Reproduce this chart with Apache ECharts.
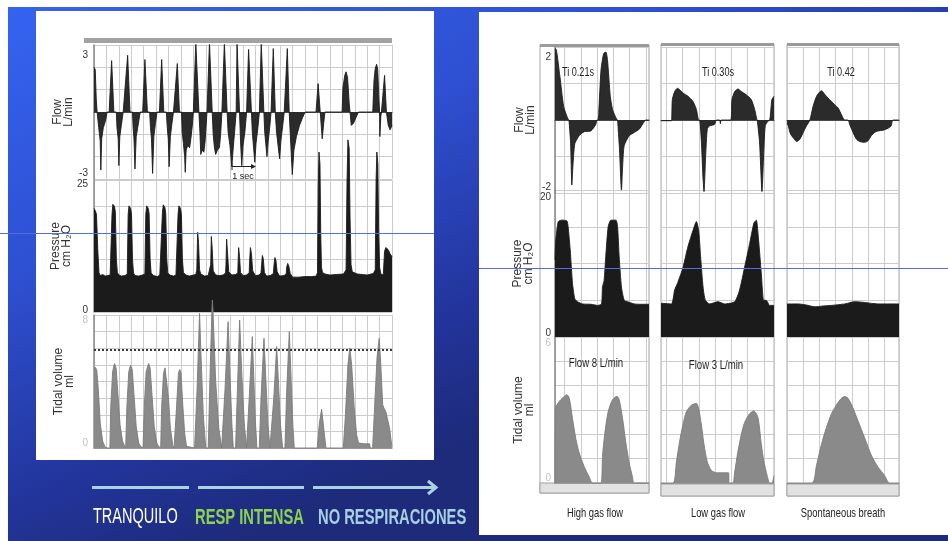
<!DOCTYPE html>
<html><head><meta charset="utf-8">
<script src="https://cdn.jsdelivr.net/npm/echarts@6/dist/echarts.min.js"></script>
<style>html,body{margin:0;padding:0;background:#fff}#c{width:948px;height:541px}</style>
</head><body><div id="c"></div><script>
// ---------------- DATA (time in grid divisions, values in axis units) ----------------
const leftFlow = [[0,2.0],[0.1,1.9],[0.18,0.6],[0.25,0],
[0.33,0],[0.38,-0.7],[0.5,-1.3],[0.55,-2.6],[0.62,-1.2],[0.75,-0.7],[0.95,-0.35],[1.05,0],
[1.22,0],[1.42,2.3],[1.6,0],
[1.8,0],[1.85,-0.7],[1.95,-1.2],[2.0,-2.4],[2.08,-1.1],[2.2,-0.6],[2.35,0],
[2.5,0],[2.71,2.54],[2.9,0],
[3.1,0],[3.15,-0.7],[3.22,-1.2],[3.3,-2.55],[3.4,-1.1],[3.55,-0.6],[3.72,0],
[3.92,0],[4.1,2.35],[4.3,0],
[4.48,0],[4.55,-0.7],[4.63,-1.2],[4.72,-2.75],[4.82,-1.1],[4.95,-0.5],[5.08,0],
[5.27,0],[5.45,2.35],[5.62,0],
[5.83,0],[5.9,-0.7],[5.98,-1.2],[6.05,-2.45],[6.15,-1.1],[6.28,-0.5],[6.4,0],
[6.53,0],[6.71,2.17],[6.88,0],
[7.05,0],[7.1,-0.9],[7.2,-1.4],[7.3,-2.0],[7.35,-2.7],[7.42,-1.7],[7.55,-1.5],[7.7,-1.6],[7.8,-1.2],[7.92,-0.6],[8.0,0],
[8.07,0],[8.2,3.1],[8.28,3.1],[8.45,0],
[8.48,0],[8.53,-0.9],[8.6,-1.9],[8.7,-1.7],[8.85,-1.8],[8.95,-1.3],[9.1,0],
[9.15,0],[9.3,3.1],[9.38,3.1],[9.52,0],
[9.53,0],[9.6,-1.0],[9.7,-1.6],[9.8,-1.9],[9.95,-1.7],[10.1,-1.6],[10.2,-1.0],[10.3,0],
[10.35,0],[10.5,3.1],[10.58,3.1],[10.72,0],
[10.75,0],[10.8,-0.9],[10.95,-1.5],[11.1,-2.45],[11.2,-1.7],[11.35,-0.7],[11.45,0],
[11.46,0],[11.52,3.1],[11.6,3.1],[11.72,0],
[11.73,0],[11.8,-1.3],[11.9,-2.4],[12.0,-1.5],[12.15,-0.9],[12.29,0],
[12.3,0],[12.45,2.8],[12.52,2.75],[12.68,0],
[12.7,0],[12.75,-0.9],[12.95,-2.25],[13.05,-1.4],[13.2,-0.7],[13.32,0],
[13.34,0],[13.47,3.1],[13.52,3.05],[13.68,0],
[13.7,0],[13.75,-0.9],[13.93,-2.0],[14.03,-1.3],[14.15,-0.7],[14.26,0],
[14.27,0],[14.44,2.84],[14.6,0],
[14.65,0],[14.7,-0.9],[14.95,-2.1],[15.05,-1.3],[15.2,-0.6],[15.32,0],
[15.38,0],[15.57,2.84],[15.72,0],
[15.75,0],[15.8,-0.9],[15.97,-2.8],[16.1,-1.7],[16.3,-1.1],[16.55,-0.6],[16.8,-0.25],[17.0,0],
[17.88,0],[18.05,1.27],[18.22,0],
[18.25,0],[18.3,-0.6],[18.38,-1.2],[18.5,-0.5],[18.6,0],
[19.98,0],[20.05,1.1],[20.2,1.65],[20.3,1.8],[20.42,1.55],[20.55,0.4],[20.62,0],
[20.65,0],[20.72,-0.6],[20.9,-0.5],[21.1,-0.25],[21.3,0],
[22.45,0],[22.55,1.4],[22.65,1.95],[22.76,2.14],[22.85,1.9],[22.95,0.5],[23.0,0],
[23.02,-1.1],[23.1,-0.2],[23.15,0],
[23.2,0],[23.4,1.64],[23.55,0],
[23.6,0],[23.7,-0.6],[23.85,-0.8],[24,-0.6]];

const leftPressure = [[0,19.6],[0.1,19.2],[0.2,18.5],[0.3,12],[0.4,7.5],[0.5,6.9],[0.7,7.1],[0.9,6.8],[1.1,6.9],[1.3,7.0],
[1.38,7.2],[1.45,18.5],[1.52,20.4],[1.65,20.0],[1.72,19.0],[1.8,10],[1.88,7.5],[2.0,7.0],[2.2,6.8],[2.5,6.9],
[2.68,7.2],[2.75,18.5],[2.82,20.1],[2.95,19.6],[3.02,18.6],[3.1,10],[3.18,7.4],[3.3,6.9],[3.6,6.8],[3.9,7.0],
[4.1,7.2],[4.17,18.5],[4.24,20.1],[4.37,19.6],[4.44,18.6],[4.52,10],[4.6,7.4],[4.8,6.9],[5.1,6.7],[5.3,7.0],
[5.44,7.2],[5.51,18.8],[5.58,20.3],[5.71,19.8],[5.78,18.6],[5.86,10],[5.94,7.4],[6.1,7.0],[6.4,6.8],[6.6,7.0],
[6.7,7.2],[6.77,18.5],[6.84,20.1],[6.97,19.6],[7.04,18.4],[7.12,10],[7.2,7.5],[7.4,7.0],[7.7,6.8],[8.0,7.0],[8.2,7.1],
[8.28,8],[8.35,15.1],[8.42,13],[8.5,8],[8.6,7.2],[8.9,6.8],[9.2,6.9],[9.35,7.2],
[9.4,9],[9.45,14.3],[9.52,12],[9.6,7.8],[9.8,7.0],[10.1,6.9],[10.4,7.0],[10.6,7.4],
[10.63,9],[10.68,13.8],[10.76,11],[10.85,7.6],[11.1,7.0],[11.4,7.1],[11.58,7.4],
[11.6,9],[11.65,12.2],[11.72,10.5],[11.8,7.5],[12.0,6.9],[12.3,7.0],[12.5,7.5],
[12.53,9.5],[12.6,12.2],[12.68,11],[12.78,7.8],[13.0,6.9],[13.3,7.0],[13.45,7.4],
[13.5,9],[13.56,10.7],[13.64,10],[13.72,7.5],[13.9,6.8],[14.2,6.9],[14.45,7.3],
[14.5,9],[14.57,10.3],[14.65,9.8],[14.75,7.6],[14.95,6.8],[15.3,6.9],[15.48,7.2],
[15.52,8.5],[15.6,9.2],[15.7,8.6],[15.8,7.3],[16.0,6.6],[16.5,6.6],[17.0,6.7],[17.5,6.7],[17.9,6.8],
[18.0,7.5],[18.06,24],[18.12,30.3],[18.2,28],[18.26,15],[18.32,8.5],[18.4,7.5],[18.6,7.2],[19.0,7.0],[19.5,7.1],[20.1,7.2],
[20.3,8],[20.38,25],[20.45,32.6],[20.55,31],[20.62,18],[20.7,9],[20.8,7.6],[21.2,7.2],[21.6,7.1],[22.0,7.0],[22.5,7.3],
[22.65,8],[22.72,25],[22.78,30.3],[22.86,28],[22.92,16],[23.0,8.5],[23.1,7.2],
[23.3,7.0],[23.4,11.5],[23.5,12.2],[23.7,11.8],[23.85,11],[24,10.5]];

const leftVolume = [[0,4.7],[0.1,4.85],[0.22,4.7],[0.35,3.5],[0.5,1.5],[0.7,0.4],[0.9,0.05],[1.1,0],
[1.28,0],[1.35,2.5],[1.5,4.6],[1.65,5.08],[1.78,4.8],[1.95,3.0],[2.1,1.4],[2.3,0.4],[2.45,0.15],[2.55,0],
[2.58,0],[2.65,2.5],[2.8,4.6],[2.95,4.98],[3.08,4.7],[3.25,2.9],[3.4,1.3],[3.6,0.3],[3.75,0.1],[3.95,0],
[3.97,0],[4.05,2.5],[4.2,4.6],[4.4,5.08],[4.52,4.8],[4.7,2.9],[4.85,1.3],[5.05,0.3],[5.2,0.1],[5.3,0],
[5.37,0],[5.45,2.5],[5.6,4.5],[5.72,4.82],[5.85,4.7],[6.0,3.0],[6.15,1.2],[6.35,0.15],[6.45,0],
[6.58,0],[6.65,2.5],[6.8,4.5],[6.9,4.72],[7.0,4.55],[7.15,2.6],[7.3,0.9],[7.45,0.1],[7.5,0],
[8.1,0],[8.3,3.5],[8.5,8.1],[8.62,5.5],[8.8,2.0],[9.0,0],
[9.2,0],[9.35,4.5],[9.5,8.4],[9.53,8.9],[9.58,8.3],[9.8,4.0],[10.05,1.2],[10.28,0],
[10.4,0],[10.55,3.5],[10.8,7.6],[10.95,4.5],[11.1,1.5],[11.22,0],
[11.4,0],[11.55,3.5],[11.73,7.7],[11.9,4.5],[12.1,1.5],[12.28,0],
[12.37,0],[12.5,3.0],[12.75,6.7],[12.88,4.0],[13.0,1.6],[13.12,0],
[13.31,0],[13.45,3.0],[13.69,6.6],[13.85,4.0],[14.0,1.5],[14.17,0],
[14.33,0],[14.48,3.0],[14.71,6.1],[14.86,3.9],[15.02,1.4],[15.19,0],
[15.38,0],[15.52,3.5],[15.73,7.0],[15.88,4.0],[16.02,1.3],[16.13,0],
[17.98,0],[18.15,1.5],[18.33,2.33],[18.5,1.2],[18.68,0],
[20.08,0],[20.25,2.0],[20.45,5.0],[20.6,6.02],[20.75,5.0],[20.95,2.5],[21.15,0.8],[21.3,0.3],[21.8,0.25],[22.2,0.25],[22.25,0],
[22.44,0],[22.6,2.5],[22.8,5.5],[22.97,6.6],[23.1,5.0],[23.25,2.6],[23.35,2.4],[23.5,2.2],[23.64,2.3],[23.8,1.2],[23.97,0.2],[24,0.1]];
const leftVolumeMark = 5.9;

const flowA = [[-0.6,1.95],[-0.55,1.95],[-0.3,1.2],[-0.07,0.38],[0.17,0.06],[0.26,0],
[0.28,0],[0.36,-0.6],[0.44,-1.78],[0.5,-1.3],[0.62,-0.65],[0.89,-0.43],[1.2,-0.32],[1.61,-0.3],[1.92,-0.12],[1.98,0],
[2.05,0],[2.1,0.2],[2.24,1.37],[2.4,1.82],[2.54,1.86],[2.64,1.64],[2.81,0.65],[2.95,0.29],[3.16,0.06],[3.26,0],
[3.3,0],[3.38,-0.8],[3.5,-1.92],[3.58,-1.2],[3.67,-0.7],[3.98,-0.43],[4.29,-0.34],[4.6,-0.25],[4.8,-0.12],[5.0,0],[5.2,0]];
const flowB = [[-0.3,-0.02],[0.31,-0.02],[0.33,0],[0.37,0.56],[0.51,0.78],[0.68,0.87],[0.82,0.83],[1.03,0.74],[1.33,0.65],[1.64,0.51],[1.85,0.29],[1.99,0],
[2.05,0],[2.15,-0.52],[2.26,-1.6],[2.32,-1.96],[2.42,-0.97],[2.52,-0.25],[2.67,-0.16],[2.97,-0.12],[3.08,0],[3.28,0],[3.33,-0.1],[3.38,0],
[3.96,0],[4.04,0.56],[4.21,0.78],[4.41,0.85],[4.62,0.78],[4.92,0.69],[5.23,0.56],[5.44,0.29],[5.6,0],
[5.62,0],[5.74,-0.6],[5.89,-1.96],[5.99,-0.97],[6.09,-0.16],[6.26,-0.03],[6.36,0],
[6.4,0.1],[6.5,0.56],[6.63,0.65]];
const flowC = [[-1.0,-0.1],[-0.92,-0.16],[-0.82,-0.34],[-0.72,-0.43],[-0.55,-0.52],[-0.41,-0.59],[-0.2,-0.52],[0,-0.34],[0.2,-0.16],[0.41,0],
[0.61,0.38],[0.82,0.65],[0.96,0.74],[1.12,0.8],[1.33,0.7],[1.53,0.6],[1.74,0.51],[1.94,0.42],[2.15,0.33],[2.35,0.15],[2.56,0],
[2.76,0],[2.86,-0.12],[3.07,-0.34],[3.27,-0.52],[3.48,-0.59],[3.78,-0.61],[3.99,-0.57],[4.19,-0.43],[4.4,-0.34],[4.6,-0.3],[4.91,-0.28],[5.21,-0.23],[5.42,-0.16],[5.52,0],[5.9,0]];

const pressA = [[-0.6,10.5],[-0.55,13.2],[-0.4,15.7],[-0.2,15.9],[0.13,15.8],[0.21,15.0],[0.34,11.8],[0.48,7.3],[0.62,5.2],[0.79,4.8],[1.1,4.5],[1.61,4.45],[2.03,4.3],[2.27,4.5],[2.33,6.8],[2.43,7.7],[2.53,10.9],[2.68,15.0],[2.85,15.9],[3.16,15.9],[3.26,15.0],[3.36,10.9],[3.5,6.8],[3.67,5.0],[3.88,4.8],[4.29,4.5],[4.7,4.45],[5.2,4.45]];
const pressB = [[-0.33,4.6],[0.31,4.5],[0.51,6.4],[0.72,7.5],[1.03,9.5],[1.33,12.3],[1.64,14.5],[1.85,15.7],[1.99,14.5],[2.11,10.9],[2.26,6.8],[2.4,5.0],[2.67,4.5],[3.18,4.8],[3.59,4.5],[4.21,4.8],[4.51,6.4],[4.82,9.5],[5.13,12.7],[5.39,15.5],[5.54,15.9],[5.68,13.2],[5.85,8.6],[5.99,5.0],[6.15,5.0],[6.36,4.3],[6.63,4.3]];
const pressC = [[-1.0,4.5],[-0.3,4.5],[0.31,4.3],[0.72,4.1],[1.12,4.2],[1.74,4.3],[2.56,4.5],[3.17,4.8],[3.78,4.7],[4.6,4.5],[5.9,4.5]];

const volA = [[-0.6,0],[-0.57,3.07],[-0.34,3.35],[-0.14,3.49],[0.13,3.63],[0.28,3.49],[0.48,2.65],[0.69,1.8],[0.89,1.24],[1.2,0.68],[1.51,0.25],[1.72,0],
[2.23,0],[2.33,1.1],[2.48,2.08],[2.68,2.93],[2.95,3.42],[3.22,3.56],[3.36,3.42],[3.57,2.65],[3.77,1.66],[3.98,0.82],[4.18,0.25],[4.29,0],[5.2,0]];
const volB = [[-0.33,0],[0.41,0],[0.62,0.87],[0.82,1.72],[1.03,2.42],[1.23,2.92],[1.54,3.2],[1.85,3.27],[1.99,3.06],[2.15,2.42],[2.32,1.58],[2.52,0.87],[2.77,0.52],[3.08,0.42],[3.49,0.42],[3.83,0.42],[3.87,0],[4.1,0],[4.21,0.45],[4.41,1.3],[4.62,2.0],[4.82,2.49],[5.13,2.85],[5.39,2.96],[5.64,2.7],[5.85,1.58],[6.01,0.87],[6.21,0.3],[6.36,0],[6.5,0],[6.63,0.3]];
const volC = [[-1.0,0],[0.51,0],[0.82,0.73],[1.12,1.58],[1.43,2.28],[1.74,2.85],[2.04,3.2],[2.35,3.48],[2.56,3.55],[2.76,3.48],[3.07,3.07],[3.37,2.56],[3.78,1.86],[4.19,1.15],[4.6,0.66],[5.01,0.31],[5.32,0],[5.9,0]];

// tick labels shown (value, text)
const leftFlowTicks = [[-3,'-3'],[3,'3']];
const leftPressTicks = [[0,'0'],[25,'25']];
const leftVolTicks = [[0,'0'],[8,'8']];
const rightFlowTicks = [[-2,'-2'],[2,'2']];
const rightPressTicks = [[0,'0'],[20,'20']];
const rightVolTicks = [[0,'0'],[6,'6']];

const panelTitles = ['Ti 0.21s','Ti 0.30s','Ti 0.42'];
const panelFlows = ['Flow 8 L/min','Flow 3 L/min'];
const panelCaptions = ['High gas flow','Low gas flow','Spontaneous breath'];
const phaseLabels = ['TRANQUILO','RESP INTENSA','NO RESPIRACIONES'];
const axisNames = ['Flow\nL/min','Pressure\ncm H\u2082O','Tidal volume\nml'];

// ---------------- LAYOUT ----------------
const FF = '"Liberation Sans", Arial, sans-serif';
const NARROW = '"Liberation Sans Narrow", "Liberation Sans", Arial, sans-serif';
const gridsPx = [
  {left:94, top:45, width:298, height:134},   // 0 left flow
  {left:94, top:180, width:298, height:132},  // 1 left pressure
  {left:94, top:315, width:298, height:133},  // 2 left volume
  {left:555, top:47, width:94, height:146},   // 3 A flow
  {left:555, top:190, width:94, height:147},  // 4 A pressure
  {left:555, top:337, width:94, height:146},  // 5 A volume
  {left:661, top:47, width:113, height:146},  // 6 B
  {left:661, top:190, width:113, height:147},
  {left:661, top:337, width:113, height:146},
  {left:787, top:47, width:112, height:146},  // 9 C
  {left:787, top:190, width:112, height:147},
  {left:787, top:337, width:112, height:146}
];
const xr = [[0,24],[0,24],[0,24],[-0.6,5.2],[-0.6,5.2],[-0.6,5.2],[-0.33,6.63],[-0.33,6.63],[-0.33,6.63],[-1,5.9],[-1,5.9],[-1,5.9]];
const yr = [[-3,3,1],[0,25,5],[0,8,1],[-2,2,1],[0,20,5],[0,6,1],[-2,2,1],[0,20,5],[0,6,1],[-2,2,1],[0,20,5],[0,6,1]];
const kinds = ['f','p','v','f','p','v','f','p','v','f','p','v'];

function edgeLabels(ticks, topPad, botPad, color, margin) {
  const lo = ticks[0], hi = ticks[1];
  return {
    show: true, margin: margin, fontSize: 10, color: color, fontFamily: FF,
    formatter: function (v) {
      if (v === hi[0]) return '{t|' + hi[1] + '}';
      if (v === lo[0]) return '{b|' + lo[1] + '}';
      return '';
    },
    rich: {
      t: {padding: [topPad, 0, 0, 0], fontSize: 10, color: color, fontFamily: FF},
      b: {padding: [0, 0, botPad, 0], fontSize: 10, color: color, fontFamily: FF}
    }
  };
}

const gridLine = {show: true, lineStyle: {color: '#cccccc', width: 1}};
const xAxes = [], yAxes = [];
for (let i = 0; i < 12; i++) {
  const k = kinds[i];
  const isLeft = i < 3;
  const isA = i >= 3 && i <= 5;
  const xa = {
    type: 'value', gridIndex: i, min: xr[i][0], max: xr[i][1],
    axisLabel: {show: false}, axisTick: {show: false}, splitLine: gridLine,
    axisLine: {show: k !== 'p', onZero: k === 'f', lineStyle: {color: k === 'f' ? '#4a4a4a' : '#999', width: 1.2}}
  };
  if (isLeft) { xa.interval = 1; } else { xa.splitNumber = Math.round(xr[i][1] - xr[i][0]); }
  xAxes.push(xa);
  const ya = {
    type: 'value', gridIndex: i, min: yr[i][0], max: yr[i][1], interval: yr[i][2],
    axisTick: {show: false}, splitLine: gridLine,
    axisLine: {show: isLeft || isA, onZero: false, lineStyle: {color: '#888', width: 1.5}},
    axisLabel: {show: false}
  };
  if (isLeft || isA) {
    const ni = k === 'f' ? 0 : (k === 'p' ? 1 : 2);
    ya.name = axisNames[ni];
    ya.nameLocation = 'middle';
    ya.nameGap = isLeft ? [20, 17, 19][ni] : [19, 21, 20][ni];
    ya.nameTextStyle = {fontSize: 12, color: '#333', fontFamily: FF, lineHeight: 11};
  }
  if (isLeft) {
    if (k === 'f') ya.axisLabel = edgeLabels(leftFlowTicks, 20, 12, '#333', 6);
    if (k === 'p') ya.axisLabel = edgeLabels(leftPressTicks, 8, 4, '#333', 6);
    if (k === 'v') ya.axisLabel = edgeLabels(leftVolTicks, 10, 10, '#c4c4c4', 6);
  } else if (isA) {
    if (k === 'f') ya.axisLabel = edgeLabels(rightFlowTicks, 20, 12, '#333', 4);
    if (k === 'p') ya.axisLabel = edgeLabels(rightPressTicks, 14, 8, '#333', 4);
    if (k === 'v') ya.axisLabel = edgeLabels(rightVolTicks, 12, 10, '#c4c4c4', 4);
  }
  yAxes.push(ya);
}

function wave(idx, data, kind, smooth) {
  const fill = kind === 'v' ? '#8a8a8a' : (kind === 'p' ? '#1b1b1b' : '#2b2b2b');
  return {
    type: 'line', xAxisIndex: idx, yAxisIndex: idx, data: data, symbol: 'none', showSymbol: false,
    smooth: smooth || false, clip: kind === 'f', silent: true,
    lineStyle: {color: kind === 'v' ? '#7a7a7a' : '#1b1b1b', width: 0.9},
    areaStyle: {color: fill, opacity: 1, origin: kind === 'f' ? 'auto' : 'start'}
  };
}
const lv = wave(2, leftVolume, 'v');
lv.markLine = {symbol: 'none', silent: true, label: {show: false},
  lineStyle: {type: 'dotted', color: '#3a3a3a', width: 2}, data: [{yAxis: leftVolumeMark}]};

const series = [
  wave(0, leftFlow, 'f'), wave(1, leftPressure, 'p'), lv,
  wave(3, flowA, 'f', 0.2), wave(4, pressA, 'p', 0.2), wave(5, volA, 'v', 0.25),
  wave(6, flowB, 'f', 0.2), wave(7, pressB, 'p', 0.2), wave(8, volB, 'v', 0.25),
  wave(9, flowC, 'f', 0.3), wave(10, pressC, 'p', 0.3), wave(11, volC, 'v', 0.3)
];

// ---------------- DECORATION ----------------
function rect(x, y, w, h, style, z) { return {type: 'rect', shape: {x: x, y: y, width: w, height: h}, style: style, z: z, silent: true}; }
function txt(x, y, s, opt) {
  return {type: 'text', x: x, y: y, z: 100, silent: true, scaleX: opt.sx || 1,
    style: {text: s, fill: opt.fill || '#222', fontSize: opt.size || 11, fontFamily: opt.ff || FF, fontWeight: opt.fw || 'normal',
      textAlign: opt.align || 'center', textVerticalAlign: 'middle'}};
}
function line(x1, y1, x2, y2, color, w, z) {
  return {type: 'line', shape: {x1: x1, y1: y1, x2: x2, y2: y2}, style: {stroke: color, lineWidth: w}, z: z || 100, silent: true};
}
const bgGrad = new echarts.graphic.LinearGradient(0, 0, 0.25, 1, [
  {offset: 0, color: '#3564f2'}, {offset: 0.45, color: '#2e4fd0'}, {offset: 0.8, color: '#22349a'}, {offset: 1, color: '#1d2b7a'}]);
const graphics = [
  rect(0, 0, 948, 541, {fill: bgGrad}, -100),
  rect(0, 0, 948, 7, {fill: '#ffffff'}, -99),
  rect(0, 0, 8, 541, {fill: '#ffffff'}, -99),
  rect(36, 11, 398, 449, {fill: '#ffffff'}, -98),
  rect(479, 12, 469, 523, {fill: '#ffffff'}, -98),
  rect(84, 38, 308, 5, {fill: '#a2a2a2'}, -97),
  // right panel frames
  rect(540, 45, 109, 448, {fill: '#ffffff', stroke: '#a8a8a8', lineWidth: 1}, -97),
  rect(661, 44, 113, 452, {fill: '#ffffff', stroke: '#a8a8a8', lineWidth: 1}, -97),
  rect(787, 44, 112, 452, {fill: '#ffffff', stroke: '#a8a8a8', lineWidth: 1}, -97),
  rect(540, 44, 109, 3, {fill: '#9a9a9a'}, -96),
  rect(661, 43, 113, 3, {fill: '#9a9a9a'}, -96),
  rect(787, 43, 112, 3, {fill: '#9a9a9a'}, -96),
  rect(540, 483, 109, 10, {fill: '#e2e2e2', stroke: '#a0a0a0', lineWidth: 1}, -96),
  rect(661, 484, 113, 12, {fill: '#e2e2e2', stroke: '#a0a0a0', lineWidth: 1}, -96),
  rect(787, 484, 112, 12, {fill: '#e2e2e2', stroke: '#a0a0a0', lineWidth: 1}, -96),
  // stray slide guide lines
  line(0, 233.5, 434, 233.5, '#4f6fe6', 1, 110),
  line(479, 268.5, 948, 268.5, '#4f6fe6', 1, 110),
  // 1 sec marker
  line(232, 166.5, 255, 166.5, '#222', 1),
  line(232, 163, 232, 170, '#222', 1),
  {type: 'polygon', shape: {points: [[256, 166.5], [251, 164], [251, 169]]}, style: {fill: '#222'}, z: 100, silent: true},
  txt(243, 177, '1 sec', {size: 9, fill: '#222'}),
  // right panel texts
  txt(578, 73, panelTitles[0], {size: 12, sx: 0.76, ff: NARROW}),
  txt(718, 73, panelTitles[1], {size: 12, sx: 0.76, ff: NARROW}),
  txt(841, 73, panelTitles[2], {size: 12, sx: 0.76, ff: NARROW}),
  txt(596, 364, panelFlows[0], {size: 12, sx: 0.8, ff: NARROW}),
  txt(716, 366, panelFlows[1], {size: 12, sx: 0.8, ff: NARROW}),
  txt(595, 513, panelCaptions[0], {size: 13, sx: 0.72, ff: NARROW}),
  txt(718, 513, panelCaptions[1], {size: 13, sx: 0.72, ff: NARROW}),
  txt(843, 513, panelCaptions[2], {size: 13, sx: 0.72, ff: NARROW}),
  // phase arrows
  line(92, 487.5, 189, 487.5, '#a9d3e3', 3),
  line(198, 487.5, 304, 487.5, '#a9d3e3', 3),
  line(313, 487.5, 435, 487.5, '#a9d3e3', 3),
  {type: 'polyline', shape: {points: [[428, 481], [436, 487.5], [428, 494]]}, style: {stroke: '#a9d3e3', lineWidth: 3, fill: null}, z: 100, silent: true},
  txt(93, 517, phaseLabels[0], {size: 22, sx: 0.66, align: 'left', fill: '#ffffff'}),
  txt(195, 518, phaseLabels[1], {size: 22, sx: 0.67, align: 'left', fill: '#8fd14f', fw: 'bold'}),
  txt(318, 518, phaseLabels[2], {size: 22, sx: 0.67, align: 'left', fill: '#a9cfe2', fw: 'bold'})
];

const chart = echarts.init(document.getElementById('c'), null, {renderer: 'canvas', width: 948, height: 541});
chart.setOption({
  animation: false,
  backgroundColor: '#ffffff',
  grid: gridsPx.map(g => Object.assign({containLabel: false, show: false}, g)),
  xAxis: xAxes,
  yAxis: yAxes,
  series: series,
  graphic: {elements: graphics}
});
</script></body></html>
